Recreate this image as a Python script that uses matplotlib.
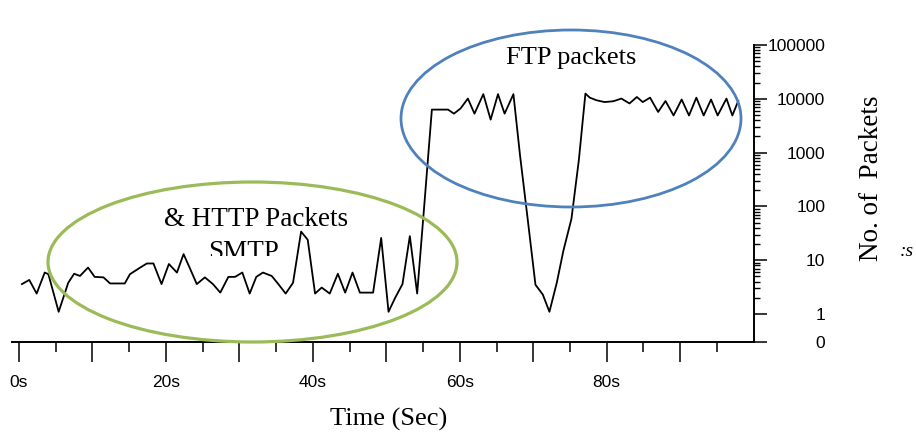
import numpy as np
import matplotlib
matplotlib.use('Agg')
import matplotlib.pyplot as plt
from matplotlib.patches import Ellipse
from matplotlib.ticker import FixedLocator, FuncFormatter
from matplotlib.transforms import Bbox, TransformedBbox

# time (s) and packet counts
times = [0.4, 1.4, 2.4, 3.5, 4.0, 5.4, 6.7, 7.5, 8.3, 9.4,
         10.3, 11.5, 12.4, 14.4, 15.1, 16.5, 17.4, 18.3, 19.4, 20.4,
         21.5, 22.4, 23.3, 24.2, 25.3, 26.4, 27.4, 28.5, 29.4, 30.4,
         31.4, 32.3, 33.2, 34.4, 35.3, 36.3, 37.3, 38.4, 39.3, 40.3,
         41.2, 42.3, 43.4, 44.4, 45.4, 46.4, 48.2, 49.3, 50.3, 51.2,
         52.2, 53.2, 54.2, 55.2, 56.2, 58.4, 59.2, 60.1, 61.1, 62.0,
         63.2, 64.2, 65.2, 66.1, 67.3, 68.2, 69.2, 70.3, 71.3, 72.2,
         73.2, 74.1, 75.2, 76.2, 77.1, 77.7, 78.6, 79.7, 80.9, 82.0,
         83.1, 84.1, 84.9, 85.9, 87.0, 88.0, 89.1, 90.2, 91.2, 92.2,
         93.2, 94.2, 95.1, 96.3, 97.1, 97.9]
packets = [3.6, 4.3, 2.4, 5.9, 5.5, 1.1, 3.8, 5.6, 5.1, 7.3,
           4.9, 4.8, 3.7, 3.7, 5.5, 7.3, 8.7, 8.7, 3.6, 8.5,
           5.9, 13.0, 6.9, 3.6, 4.8, 3.6, 2.5, 4.9, 4.9, 5.9,
           2.4, 4.9, 5.9, 5.1, 3.6, 2.4, 3.8, 34, 24, 2.4,
           3.1, 2.4, 5.6, 2.5, 5.9, 2.5, 2.5, 26, 1.1, 2.0,
           3.6, 28, 2.4, 120, 6300, 6300, 5300, 6600, 10100, 5300,
           12200, 4100, 12200, 5300, 12200, 890, 65, 3.5, 2.3, 1.1,
           3.8, 15, 59, 715, 12500, 10500, 9400, 8700, 9000, 10100,
           8200, 10800, 8700, 10500, 5700, 9100, 4900, 9700, 4900, 10500,
           4900, 9700, 4900, 10100, 4900, 9100]

y_ticks = [0, 1, 10, 100, 1000, 10000, 100000]
x_major = list(range(0, 100, 10))
x_minor = list(range(5, 100, 10))
x_labeled = [0, 20, 40, 60, 80]

ZERO_GAP = 0.52  # where 0 sits below 1, in decades


def fwd(v):
    v = np.asarray(v, dtype=float)
    return np.where(v >= 1, np.log10(np.maximum(v, 1)), (v - 1) * ZERO_GAP)


def inv(y):
    y = np.asarray(y, dtype=float)
    return np.where(y >= 0, 10 ** np.maximum(y, 0), y / ZERO_GAP + 1)


W, H = 916, 434
fig = plt.figure(figsize=(W / 100, H / 100), dpi=100)
ax = fig.add_axes([11.65 / W, 92 / H, 742 / W, 297 / H])

ax.plot(times, packets, color='black', lw=1.3)
ax.set_yscale('function', functions=(fwd, inv))
ax.set_ylim(0, 100000)
ax.set_xlim(-1, 100)

for s in ['top', 'left']:
    ax.spines[s].set_visible(False)
for s in ['bottom', 'right']:
    ax.spines[s].set_linewidth(1.4)

tick_font = dict(family=['Liberation Sans Narrow', 'Liberation Sans'], size=12.5)

ax.xaxis.set_major_locator(FixedLocator(x_major))
ax.xaxis.set_minor_locator(FixedLocator(x_minor))
ax.xaxis.set_major_formatter(FuncFormatter(
    lambda v, p: '%ds' % v if int(round(v)) in x_labeled else ''))
ax.tick_params(axis='x', which='major', length=14.5, width=1.1, pad=9, direction='out')
ax.tick_params(axis='x', which='minor', length=7.5, width=1.1, direction='out')

minor_y = [k * 10 ** n for n in range(0, 5) for k in range(2, 10)]
ax.yaxis.tick_right()
ax.yaxis.set_major_locator(FixedLocator(y_ticks))
ax.yaxis.set_minor_locator(FixedLocator(minor_y))
ax.yaxis.set_major_formatter(FuncFormatter(lambda v, p: '%d' % v))
ax.tick_params(axis='y', which='major', length=9.5, width=1.1, pad=42, direction='out')
ax.tick_params(axis='y', which='minor', length=4.5, width=1.0, direction='out')
for lab in ax.get_yticklabels():
    lab.set_horizontalalignment('right')
    lab.set_fontproperties(matplotlib.font_manager.FontProperties(**tick_font))
for lab in ax.get_xticklabels():
    lab.set_fontproperties(matplotlib.font_manager.FontProperties(**tick_font))

serif = ['Liberation Serif', 'DejaVu Serif']


def px(x, y):
    return x / W, 1 - y / H


# ellipses around the two regions
green = Ellipse(px(252.5, 262), 409 / W, 160 / H, transform=fig.transFigure,
                fill=False, edgecolor='#9BBB59', lw=2.3, zorder=5)
blue = Ellipse(px(571, 118.5), 340 / W, 177 / H, transform=fig.transFigure,
               fill=False, edgecolor='#4F81BD', lw=2.0, zorder=5)
fig.add_artist(green)
fig.add_artist(blue)

fig.text(*px(571, 58), 'FTP packets', family=serif, fontsize=19,
         ha='center', va='center')
fig.text(*px(256, 219), '& HTTP Packets', family=serif, fontsize=19.5,
         ha='center', va='center')
smtp = fig.text(*px(244, 240), 'SMTP', family=serif, fontsize=19.5,
                ha='center', va='top', clip_on=True)
smtp.set_clip_box(TransformedBbox(Bbox([[0.1, 1 - 256 / H], [0.5, 1.0]]),
                                  fig.transFigure))
fig.text(*px(872, 178), 'No. of  Packets', family=serif, fontsize=19.5,
         rotation=90, ha='center', va='center')
fig.text(*px(907, 252), ':s', family=serif, fontsize=14, style='italic',
         ha='center', va='center')
fig.text(*px(389, 408), 'Time (Sec)', family=serif, fontsize=19,
         ha='center', va='top')

fig.savefig('out.png', dpi=100)
